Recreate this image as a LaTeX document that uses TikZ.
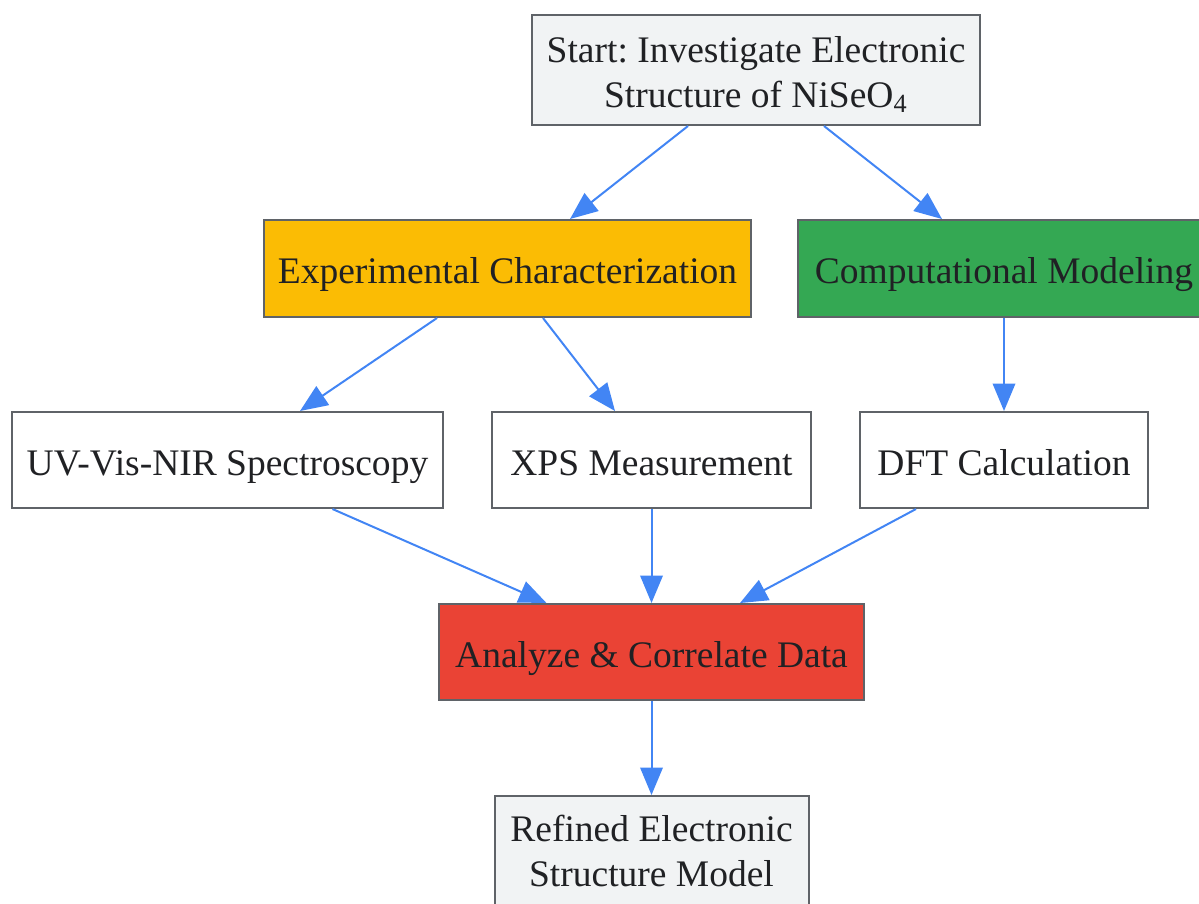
\documentclass[tikz,border=0pt]{standalone}
\usepackage{fontspec}
\setmainfont{Liberation Serif}
\usetikzlibrary{arrows.meta}
\frenchspacing
\definecolor{boxline}{HTML}{5F6368}
\definecolor{boxgrey}{HTML}{F1F3F4}
\definecolor{gyellow}{HTML}{FBBC04}
\definecolor{ggreen}{HTML}{34A853}
\definecolor{gred}{HTML}{EA4335}
\definecolor{gblue}{HTML}{4285F4}
\definecolor{ink}{HTML}{202124}
\begin{document}
\begin{tikzpicture}[x=0.4pt,y=-0.4pt,>={Triangle[length=11pt,width=9pt]}]
  \tikzstyle{block}=[draw=boxline,line width=0.8pt,rectangle,inner sep=0pt,align=center,
    text=ink,font=\fontsize{15}{18}\selectfont,minimum height=38.4pt]
  \tikzstyle{oneline}=[block,text height=12.5pt,text depth=0.5pt]
  \tikzstyle{flow}=[->,draw=gblue,line width=0.8pt,fill=gblue]
  \def\dt{27.2pt}	% offset of arrows under the start box
  \def\de{28.2pt}	% offset of left arrow under experiments
  \def\dm{42pt}	% offset of outer arrows into analysis
  \useasboundingbox (0,0) rectangle (1199,903);
  \node[block,fill=boxgrey,minimum width=179.2pt,minimum height=44pt] (start) at (756,70)
    {\rule{0pt}{14pt}Start: Investigate Electronic\\Structure of NiSeO\textsubscript{4}};
  \node[oneline,fill=gyellow,minimum width=194.8pt,minimum height=38.8pt] (exper) at (507.5,268.5)
    {Experimental Characterization};
  \node[oneline,fill=ggreen,minimum width=164.8pt,minimum height=38.8pt] (comp) at (1004,268.5)
    {Computational Modeling};
  \node[oneline,fill=white,minimum width=172.4pt] (uvvis) at (227.5,460) {UV-Vis-NIR Spectroscopy};
  \node[oneline,fill=white,minimum width=127.6pt] (xps) at (651.5,460) {XPS Measurement};
  \node[oneline,fill=white,minimum width=115.2pt] (dft) at (1004,460) {DFT Calculation};
  \node[oneline,fill=gred,minimum width=170pt] (analyze) at (651.5,652) {Analyze \& Correlate Data};
  \node[block,fill=boxgrey,minimum width=125.6pt,minimum height=44pt] (refined) at (651.5,851)
    {Refined Electronic\\Structure Model};
  \draw[flow] ([xshift=-\dt]start.south) -- ([xshift=25pt]exper.north);
  \draw[flow] ([xshift=\dt]start.south) -- ([xshift=-24.8pt]comp.north);
  \draw[flow] ([xshift=-\de]exper.south) -- ([xshift=29pt]uvvis.north);
  \draw[flow] ([xshift=14.2pt]exper.south) -- ([xshift=-14.6pt]xps.north);
  \draw[flow] (comp) -- (dft);
  \draw[flow] ([xshift=\dm]uvvis.south) -- ([xshift=-\dm]analyze.north);
  \draw[flow] (xps) -- (analyze);
  \draw[flow] ([xshift=-35.2pt]dft.south) -- ([xshift=35.4pt]analyze.north);
  \draw[flow] (analyze) -- (refined);
\end{tikzpicture}
\end{document}
